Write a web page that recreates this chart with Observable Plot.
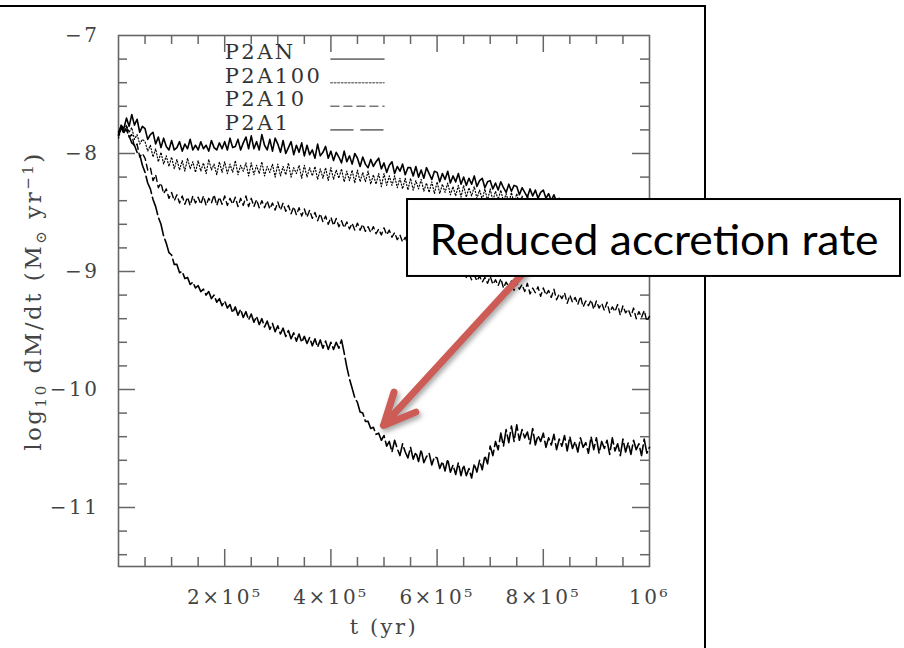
<!DOCTYPE html>
<html>
<head>
<meta charset="utf-8">
<script src="https://cdn.jsdelivr.net/npm/d3@7"></script>
<script src="https://cdn.jsdelivr.net/npm/@observablehq/plot@0.6"></script>
<style>
  html, body { margin: 0; padding: 0; background: #fff; }
  #wrap { position: relative; width: 904px; height: 648px; overflow: hidden; }
  #slideFrame { position: absolute; left: -20px; top: 5px; width: 726px; height: 720px;
                border: 2px solid #000; box-sizing: border-box; }
  #chart { position: absolute; left: 0; top: 0; }
</style>
</head>
<body>
<div id="wrap"><div id="slideFrame"></div><div id="chart"></div></div>
<script>
// Accretion rate log10 dM/dt (Msun/yr) sampled every 5000 yr from t = 0 to 1e6 yr
const times = d3.range(0, 1000001, 5000);

const seriesNames = ["P2AN", "P2A100", "P2A10", "P2A1"];

const p2an = [
  -7.84,-7.76,-7.79,-7.70,-7.77,-7.67,-7.76,-7.71,-7.82,-7.77,
  -7.79,-7.88,-7.84,-7.82,-7.92,-7.86,-7.95,-7.87,-7.94,-7.97,
  -7.89,-7.97,-7.95,-7.90,-7.98,-7.92,-7.96,-7.88,-7.97,-7.93,
  -7.97,-7.90,-7.96,-7.93,-7.98,-7.89,-7.95,-7.97,-7.91,-7.96,
  -7.90,-7.97,-7.87,-7.95,-7.94,-7.88,-7.97,-7.91,-7.86,-7.96,
  -7.85,-7.96,-7.90,-7.97,-7.84,-7.93,-7.97,-7.88,-7.98,-7.87,
  -7.92,-7.99,-7.89,-8.00,-7.95,-7.90,-8.01,-7.93,-7.99,-7.91,
  -8.02,-7.93,-8.01,-7.97,-8.04,-7.92,-8.02,-7.99,-7.94,-8.04,
  -7.98,-8.06,-7.99,-8.03,-8.08,-7.98,-8.07,-8.02,-8.09,-8.00,
  -8.04,-8.11,-8.03,-8.09,-8.12,-8.05,-8.11,-8.07,-8.04,-8.13,
  -8.08,-8.16,-8.10,-8.07,-8.17,-8.11,-8.15,-8.09,-8.18,-8.12,
  -8.12,-8.19,-8.11,-8.20,-8.14,-8.21,-8.12,-8.17,-8.22,-8.15,
  -8.16,-8.24,-8.17,-8.22,-8.15,-8.25,-8.19,-8.24,-8.17,-8.26,
  -8.20,-8.27,-8.21,-8.26,-8.19,-8.28,-8.23,-8.21,-8.29,-8.24,
  -8.23,-8.30,-8.25,-8.31,-8.24,-8.29,-8.33,-8.26,-8.32,-8.27,
  -8.28,-8.35,-8.29,-8.33,-8.37,-8.30,-8.36,-8.31,-8.38,-8.33,
  -8.31,-8.38,-8.34,-8.40,-8.35,-8.41,-8.38,-8.44,-8.40,-8.45,
  -8.41,-8.46,-8.43,-8.48,-8.44,-8.49,-8.45,-8.49,-8.46,-8.51,
  -8.47,-8.52,-8.48,-8.53,-8.49,-8.54,-8.50,-8.55,-8.51,-8.56,
  -8.52,-8.57,-8.53,-8.58,-8.54,-8.59,-8.55,-8.60,-8.56,-8.61,
  -8.58
];

const p2a100 = [
  -7.87,-7.79,-7.83,-7.76,-7.82,-7.78,-7.88,-7.84,-7.92,-7.88,
  -7.90,-7.98,-7.93,-8.03,-7.96,-8.07,-7.99,-8.09,-8.02,-8.11,
  -8.03,-8.13,-8.05,-8.14,-8.06,-8.15,-8.04,-8.13,-8.07,-8.16,
  -8.06,-8.15,-8.08,-8.17,-8.05,-8.14,-8.09,-8.18,-8.07,-8.16,
  -8.07,-8.17,-8.09,-8.16,-8.06,-8.18,-8.10,-8.15,-8.08,-8.19,
  -8.08,-8.18,-8.10,-8.17,-8.07,-8.19,-8.11,-8.16,-8.09,-8.20,
  -8.09,-8.19,-8.11,-8.18,-8.08,-8.20,-8.12,-8.17,-8.10,-8.21,
  -8.10,-8.20,-8.12,-8.19,-8.11,-8.22,-8.13,-8.21,-8.12,-8.23,
  -8.12,-8.22,-8.14,-8.21,-8.13,-8.24,-8.15,-8.23,-8.14,-8.25,
  -8.14,-8.24,-8.16,-8.24,-8.15,-8.26,-8.18,-8.26,-8.17,-8.28,
  -8.17,-8.27,-8.19,-8.27,-8.19,-8.29,-8.21,-8.30,-8.21,-8.31,
  -8.21,-8.31,-8.23,-8.30,-8.22,-8.32,-8.25,-8.33,-8.24,-8.34,
  -8.24,-8.34,-8.26,-8.33,-8.25,-8.35,-8.28,-8.36,-8.27,-8.37,
  -8.27,-8.37,-8.29,-8.36,-8.28,-8.38,-8.31,-8.39,-8.30,-8.40,
  -8.30,-8.40,-8.32,-8.39,-8.31,-8.41,-8.34,-8.42,-8.33,-8.43,
  -8.34,-8.43,-8.36,-8.44,-8.35,-8.46,-8.38,-8.46,-8.39,-8.48,
  -8.38,-8.47,-8.40,-8.48,-8.41,-8.49,-8.42,-8.50,-8.43,-8.51,
  -8.42,-8.50,-8.44,-8.51,-8.45,-8.52,-8.46,-8.53,-8.47,-8.54,
  -8.45,-8.53,-8.46,-8.54,-8.47,-8.55,-8.48,-8.56,-8.49,-8.57,
  -8.48,-8.56,-8.50,-8.57,-8.51,-8.58,-8.52,-8.59,-8.53,-8.60,
  -8.56
];

const p2a10 = [
  -7.85,-7.78,-7.82,-7.77,-7.86,-7.84,-7.94,-7.92,-8.03,-8.00,
  -8.04,-8.14,-8.12,-8.23,-8.18,-8.29,-8.25,-8.34,-8.30,-8.38,
  -8.33,-8.40,-8.35,-8.42,-8.36,-8.43,-8.37,-8.44,-8.36,-8.42,
  -8.37,-8.43,-8.36,-8.44,-8.38,-8.42,-8.35,-8.44,-8.37,-8.43,
  -8.36,-8.44,-8.38,-8.43,-8.37,-8.45,-8.38,-8.44,-8.36,-8.45,
  -8.38,-8.45,-8.39,-8.46,-8.40,-8.46,-8.40,-8.47,-8.42,-8.48,
  -8.41,-8.48,-8.42,-8.49,-8.44,-8.51,-8.45,-8.52,-8.46,-8.53,
  -8.47,-8.54,-8.48,-8.55,-8.50,-8.57,-8.51,-8.58,-8.53,-8.60,
  -8.54,-8.61,-8.55,-8.62,-8.57,-8.63,-8.58,-8.64,-8.59,-8.65,
  -8.59,-8.65,-8.60,-8.66,-8.62,-8.67,-8.62,-8.68,-8.64,-8.69,
  -8.63,-8.69,-8.65,-8.71,-8.67,-8.73,-8.69,-8.75,-8.71,-8.77,
  -8.72,-8.78,-8.75,-8.81,-8.78,-8.84,-8.81,-8.87,-8.84,-8.90,
  -8.86,-8.91,-8.89,-8.94,-8.92,-8.97,-8.95,-9.00,-8.98,-9.03,
  -9.00,-9.05,-9.02,-9.07,-9.03,-9.08,-9.04,-9.09,-9.05,-9.10,
  -9.04,-9.11,-9.07,-9.12,-9.06,-9.14,-9.09,-9.13,-9.08,-9.16,
  -9.09,-9.15,-9.11,-9.17,-9.10,-9.19,-9.14,-9.18,-9.13,-9.21,
  -9.14,-9.20,-9.16,-9.22,-9.15,-9.24,-9.19,-9.23,-9.18,-9.27,
  -9.20,-9.26,-9.22,-9.28,-9.21,-9.30,-9.25,-9.29,-9.24,-9.32,
  -9.25,-9.31,-9.27,-9.33,-9.26,-9.35,-9.30,-9.34,-9.28,-9.37,
  -9.29,-9.35,-9.32,-9.38,-9.31,-9.40,-9.34,-9.39,-9.33,-9.42,
  -9.38
];

const p2a1 = [
  -7.82,-7.77,-7.81,-7.80,-7.85,-7.91,-7.93,-7.99,-8.01,-8.10,
  -8.16,-8.25,-8.30,-8.39,-8.45,-8.54,-8.60,-8.70,-8.76,-8.84,
  -8.86,-8.94,-8.94,-9.01,-9.00,-9.06,-9.05,-9.11,-9.09,-9.14,
  -9.12,-9.17,-9.15,-9.20,-9.17,-9.23,-9.20,-9.26,-9.23,-9.29,
  -9.25,-9.31,-9.28,-9.35,-9.30,-9.37,-9.32,-9.39,-9.34,-9.41,
  -9.36,-9.43,-9.38,-9.45,-9.40,-9.47,-9.42,-9.49,-9.44,-9.51,
  -9.46,-9.53,-9.48,-9.55,-9.50,-9.57,-9.52,-9.59,-9.53,-9.60,
  -9.55,-9.61,-9.56,-9.63,-9.57,-9.64,-9.58,-9.65,-9.59,-9.66,
  -9.60,-9.66,-9.60,-9.65,-9.58,-9.69,-9.81,-9.91,-9.99,-10.07,
  -10.11,-10.19,-10.20,-10.27,-10.27,-10.33,-10.32,-10.38,-10.37,-10.43,
  -10.39,-10.48,-10.44,-10.53,-10.43,-10.50,-10.56,-10.46,-10.53,-10.58,
  -10.49,-10.59,-10.53,-10.61,-10.51,-10.62,-10.57,-10.54,-10.64,-10.57,
  -10.58,-10.67,-10.61,-10.69,-10.59,-10.70,-10.64,-10.72,-10.62,-10.73,
  -10.64,-10.73,-10.67,-10.75,-10.63,-10.70,-10.60,-10.68,-10.56,-10.63,
  -10.48,-10.56,-10.44,-10.51,-10.37,-10.48,-10.34,-10.45,-10.31,-10.44,
  -10.30,-10.43,-10.34,-10.41,-10.36,-10.46,-10.33,-10.47,-10.39,-10.44,
  -10.37,-10.49,-10.41,-10.47,-10.38,-10.51,-10.42,-10.48,-10.39,-10.52,
  -10.40,-10.50,-10.44,-10.53,-10.41,-10.49,-10.45,-10.54,-10.40,-10.51,
  -10.41,-10.54,-10.44,-10.50,-10.43,-10.55,-10.41,-10.52,-10.46,-10.56,
  -10.42,-10.53,-10.45,-10.55,-10.43,-10.51,-10.46,-10.56,-10.42,-10.54,
  -10.49
];

// Legend rows: label position (t, log10 rate) and sample-line span
const legendY = [-7.2, -7.4, -7.6, -7.8];
const legendTextT = 2e5;
const legendLineT = [4e5, 5e5];

// Axis ticks
const xLabelTicks = [2e5, 4e5, 6e5, 8e5, 1e6];
const xMajorTicks = [2e5, 4e5, 6e5, 8e5];
const xMinorTicks = d3.range(5e4, 1e6, 5e4).filter(t => t % 2e5 !== 0);
const yLabelTicks = [-7, -8, -9, -10, -11];
const yMajorTicks = [-8, -9, -10, -11];
const yMinorTicks = d3.range(-114, -70, 2).filter(v => v % 10 !== 0).map(v => v / 10);

const xTitle = "t (yr)";
const yLabelParts = [["log", ""], ["10", "sub"], [" dM/dt (M", ""], ["\u2299", "sub"], [" yr", ""], ["\u22121", "sup"], [")", ""]];
const yTitle = yLabelParts.map(p => p[0]).join("");

// Callout: box corners, text and arrow (tail under the box, head at the drop)
const note = {
  label: "Reduced accretion rate",
  boxT1: 5.443e5, boxT2: 1.4727e6, boxY1: -8.39, boxY2: -9.042,
  tailT: 7.63e5, tailY: -9.01, headT: 4.99e5, headY: -10.305
};

const series = [p2an, p2a100, p2a10, p2a1];
const curveDash = [null, "1.2,2", "6,4", "18,4"];
const curveWidth = [1.6, 1.2, 1.4, 1.6];
const legendDash = [null, "1.5,2", "8,5", "22,8"];

const ink = "#000";
const axisGray = "#666";
const labelGray = "#444";
const frameH = 648 - 35 - 82;

const fmtX = d => d === 1e6 ? "10\u2076" : `${d / 1e5}\u00d710\u2075`;
const fmtY = d => "\u2212" + Math.abs(d);

const marks = [
  Plot.frame({stroke: axisGray, strokeWidth: 1.6}),
  // inward ticks on all four sides
  Plot.tickX(xMajorTicks, {insetBottom: frameH - 17, stroke: axisGray, strokeWidth: 1.5}),
  Plot.tickX(xMajorTicks, {insetTop: frameH - 17, stroke: axisGray, strokeWidth: 1.5}),
  Plot.tickX(xMinorTicks, {insetBottom: frameH - 9, stroke: axisGray, strokeWidth: 1.5}),
  Plot.tickX(xMinorTicks, {insetTop: frameH - 9, stroke: axisGray, strokeWidth: 1.5}),
  Plot.tickY(yMajorTicks, {insetRight: frameH - 17, stroke: axisGray, strokeWidth: 1.5}),
  Plot.tickY(yMajorTicks, {insetLeft: frameH - 17, stroke: axisGray, strokeWidth: 1.5}),
  Plot.tickY(yMinorTicks, {insetRight: frameH - 9, stroke: axisGray, strokeWidth: 1.5}),
  Plot.tickY(yMinorTicks, {insetLeft: frameH - 9, stroke: axisGray, strokeWidth: 1.5}),
  Plot.axisX(xLabelTicks, {tickSize: 0, tickPadding: 23, tickFormat: fmtX, fill: labelGray, label: null}),
  Plot.axisY(yLabelTicks, {tickSize: 0, tickPadding: 19, tickFormat: fmtY, fill: labelGray, label: null}),
  Plot.text([xTitle], {frameAnchor: "bottom", lineAnchor: "bottom", dy: 67, fill: labelGray, fontSize: 21}),
  Plot.text([yTitle], {frameAnchor: "left", textAnchor: "middle", rotate: -90, dx: -85, fill: labelGray, fontSize: 23})
];

series.forEach((vals, k) => {
  marks.push(Plot.line(vals, {
    x: (d, i) => times[i], y: d => d,
    stroke: ink, strokeWidth: curveWidth[k], strokeDasharray: curveDash[k]
  }));
});

seriesNames.forEach((name, k) => {
  marks.push(Plot.text([name], {
    x: () => legendTextT, y: () => legendY[k], text: d => d,
    textAnchor: "start", lineAnchor: "bottom", fill: "#333", fontSize: 21
  }));
  marks.push(Plot.line(legendLineT, {
    x: d => d, y: () => legendY[k],
    stroke: "#777", strokeWidth: 1.6, strokeDasharray: legendDash[k]
  }));
});

marks.push(
  Plot.arrow([note], {
    x1: "tailT", y1: "tailY", x2: "headT", y2: "headY",
    stroke: "#cd5c56", strokeWidth: 7, headLength: 7.5, headAngle: 50,
    strokeLinecap: "round", strokeLinejoin: "round"
  }),
  Plot.rect([note], {
    x1: "boxT1", x2: "boxT2", y1: "boxY1", y2: "boxY2",
    fill: "white", stroke: "black", strokeWidth: 2
  }),
  Plot.text([note], {
    x: d => (d.boxT1 + d.boxT2) / 2, y: d => (d.boxY1 + d.boxY2) / 2, text: "label",
    fontSize: 42, fontFamily: "Lato", fill: "black", dy: 4
  })
);

const chart = Plot.plot({
  width: 904, height: 648,
  marginLeft: 118, marginRight: 255, marginTop: 35, marginBottom: 82,
  x: {domain: [0, 1e6]},
  y: {domain: [-11.5, -7]},
  style: {background: "transparent", fontFamily: "'DejaVu Serif', serif", fontSize: "20px", letterSpacing: "2.5px", overflow: "visible"},
  marks
});
document.getElementById("chart").appendChild(chart);

const root = d3.select(chart);
root.selectAll("text").filter(function () { return this.textContent === note.label; })
  .attr("textLength", 449).attr("lengthAdjust", "spacingAndGlyphs").style("letter-spacing", "0px");
root.selectAll('g[aria-label="arrow"]').style("filter", "drop-shadow(2px 3px 2.5px rgba(0,0,0,0.35))");
root.selectAll("text").filter(function () { return this.textContent === yTitle; }).each(function () {
  const t = d3.select(this);
  t.text(null);
  let shift = 0;
  for (const [s, kind] of yLabelParts) {
    const target = kind === "sub" ? 5 : kind === "sup" ? -8 : 0;
    const ts = t.append("tspan").text(s).attr("dy", target - shift);
    if (kind) ts.attr("font-size", "15px");
    shift = target;
  }
});
</script>
</body>
</html>
